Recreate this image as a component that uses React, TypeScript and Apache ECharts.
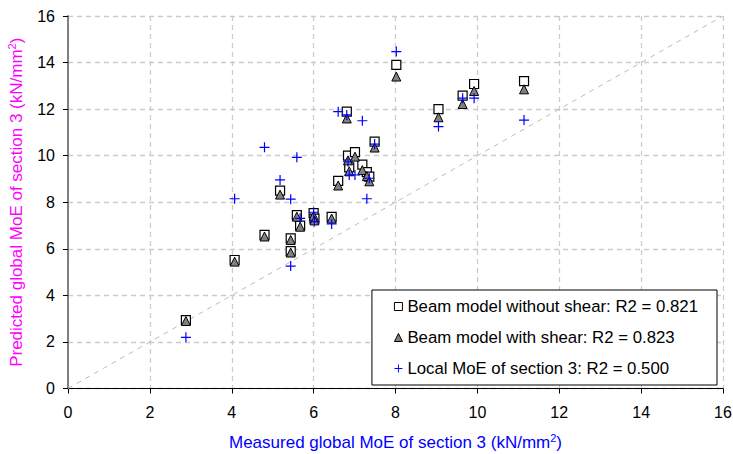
import React, { useEffect, useRef } from "react";
import * as echarts from "echarts";

const measured = [2.88, 4.07, 4.8, 5.18, 5.44, 5.44, 5.59, 5.67, 6.0, 6.02, 6.44, 6.6, 6.81, 6.84, 6.87, 7.01, 7.19, 7.3, 7.36, 7.49, 8.02, 9.05, 9.64, 9.92, 11.14];
const noShear = [2.94, 5.52, 6.6, 8.5, 6.45, 5.9, 7.45, 7.0, 7.53, 7.3, 7.37, 8.92, 11.89, 10.0, 9.5, 10.15, 9.62, 9.29, 9.1, 10.6, 13.9, 12.0, 12.58, 13.08, 13.2];
const withShear = [2.9, 5.45, 6.53, 8.33, 6.38, 5.84, 7.38, 6.95, 7.42, 7.22, 7.3, 8.72, 11.6, 9.8, 9.33, 9.96, 9.38, 9.12, 8.9, 10.35, 13.4, 11.65, 12.22, 12.78, 12.85];
const localMoE = [2.2, 8.15, 10.36, 8.96, 8.13, 5.26, 9.93, 7.31, 7.57, 7.17, 7.07, 11.89, 11.75, 9.74, 9.17, 9.17, 11.5, 8.15, 9.03, 10.5, 14.47, 11.25, 12.47, 12.47, 11.53];
const identityLine = [[0, 0], [16, 16]];

const seriesNames = [
  "Beam model without shear: R2 = 0.821",
  "Beam model with shear: R2 = 0.823",
  "Local MoE of section 3: R2 = 0.500",
];

const FONT = "'Liberation Sans', Arial, sans-serif";
const PLUS = "path://M4.4,0H5.6V4.4H10V5.6H5.6V10H4.4V5.6H0V4.4H4.4Z";

export default function App() {
  const ref = useRef<HTMLDivElement>(null);
  useEffect(() => {
    if (!ref.current) return;
    const chart = echarts.init(ref.current, null, { renderer: "svg" });
    const pair = (ys: number[]) => measured.map((x, i) => [x, ys[i]]);
    const splitLine = { show: true, lineStyle: { type: [5, 4], color: "#cccccc", width: 1.3 } };
    chart.setOption({
      animation: false,
      backgroundColor: "#fff",
      textStyle: { fontFamily: FONT },
      grid: { left: 68, right: 10, top: 16, bottom: 65.5, outerBoundsMode: "none" },
      xAxis: {
        type: "value",
        min: 0,
        max: 16,
        interval: 2,
        axisLine: { show: true, onZero: false, lineStyle: { color: "#000", width: 1 } },
        axisTick: { show: true, length: 5, lineStyle: { color: "#000" } },
        axisLabel: { color: "#000", fontSize: 16, margin: 16, fontFamily: FONT },
        splitLine,
        name: "Measured global MoE of section 3 (kN/mm{sup|2})",
        nameLocation: "middle",
        nameGap: 44,
        nameTextStyle: {
          color: "#0000ff",
          fontSize: 17,
          fontFamily: FONT,
          lineHeight: 20,
          rich: { sup: { fontSize: 11, color: "#0000ff", verticalAlign: "top", lineHeight: 12, fontFamily: FONT } },
        },
      },
      yAxis: {
        type: "value",
        min: 0,
        max: 16,
        interval: 2,
        axisLine: { show: true, lineStyle: { color: "#808080", width: 2 } },
        axisTick: { show: true, length: 5, lineStyle: { color: "#000" } },
        axisLabel: { color: "#000", fontSize: 16, margin: 13, fontFamily: FONT },
        splitLine,
        name: "Predicted global MoE of section 3 (kN/mm{sup|2})",
        nameLocation: "middle",
        nameGap: 40,
        nameTextStyle: {
          color: "#ff00ff",
          fontSize: 17,
          fontFamily: FONT,
          lineHeight: 20,
          rich: { sup: { fontSize: 11, color: "#ff00ff", verticalAlign: "top", lineHeight: 12, fontFamily: FONT } },
        },
      },
      legend: {
        orient: "vertical",
        right: 16,
        top: 290,
        backgroundColor: "#fff",
        borderColor: "#000",
        borderWidth: 1,
        padding: [8, 19, 8, 22],
        itemGap: 14,
        itemWidth: 8,
        itemHeight: 8,
        itemStyle: { borderWidth: 1 },
        textStyle: { fontSize: 16.8, color: "#000", fontFamily: FONT },
        data: seriesNames,
      },
      series: [
        {
          type: "line",
          data: identityLine,
          symbol: "none",
          silent: true,
          lineStyle: { color: "#bbbbbb", width: 1, type: [5, 5] },
          z: 1,
        },
        {
          name: seriesNames[0],
          type: "scatter",
          data: pair(noShear),
          symbol: "rect",
          symbolSize: 9,
          itemStyle: { color: "#ffffff", borderColor: "#000", borderWidth: 1.2, opacity: 1 },
          z: 2,
        },
        {
          name: seriesNames[1],
          type: "scatter",
          data: pair(withShear),
          symbol: "triangle",
          symbolSize: 9,
          itemStyle: { color: "#808080", borderColor: "#000", borderWidth: 1, opacity: 1 },
          z: 3,
        },
        {
          name: seriesNames[2],
          type: "scatter",
          data: pair(localMoE),
          symbol: PLUS,
          symbolSize: 10,
          itemStyle: { color: "#0000ff", opacity: 1 },
          z: 4,
        },
      ],
    });
    return () => chart.dispose();
  }, []);
  return (
    <div
      ref={ref}
      style={{ position: "fixed", left: 0, top: 0, width: 733, height: 454, background: "#fff" }}
    />
  );
}
